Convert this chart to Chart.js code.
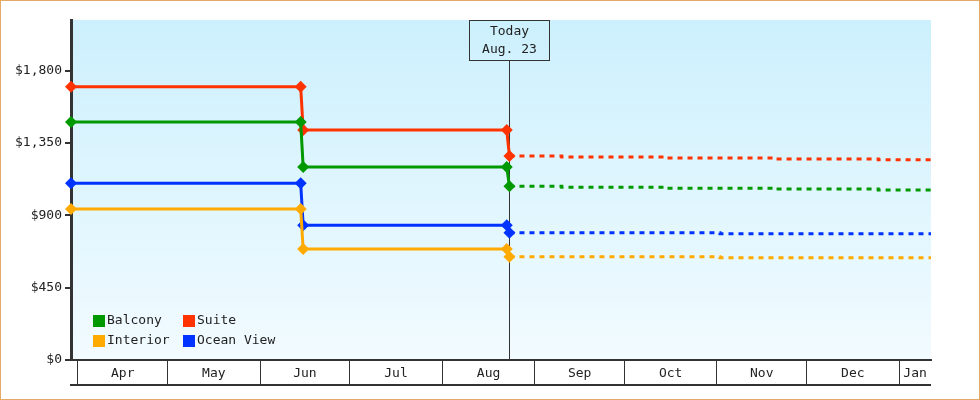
<!DOCTYPE html>
<html>
<head>
<meta charset="utf-8">
<title>Cabin prices</title>
<script src="https://cdn.jsdelivr.net/npm/chart.js@4.4.0/dist/chart.umd.min.js"></script>
<style>
    html, body { margin: 0; padding: 0; background: #fff; }
    #wrap { width: 980px; height: 400px; }
</style>
</head>
<body>
<div id="wrap"><canvas id="priceChart" width="980" height="400"></canvas></div>
<script>
// Price history (solid lines with markers)
const historyDates = ['2013-03-29T16:00', '2013-06-14T14:00', '2013-06-15T10:00', '2013-08-22T14:00', '2013-08-23T12:00'];
const balconyHistory = [1480, 1480, 1200, 1200, 1081];
const suiteHistory = [1700, 1700, 1430, 1430, 1269];
const interiorHistory = [940, 940, 691, 691, 642];
const oceanHistory = [1100, 1100, 838, 838, 791];

// Forecast (dashed, stepped)
const forecastDatesA = ['2013-08-23T12:00', '2013-09-10T00:00', '2013-10-15T00:00', '2013-11-20T00:00', '2013-12-25T00:00', '2014-01-11T16:00'];
const balconyForecast = [1081, 1075, 1069, 1063, 1057, 1057];
const suiteForecast = [1269, 1263, 1257, 1251, 1245, 1245];
const forecastDatesB = ['2013-08-23T12:00', '2013-11-02T00:00', '2014-01-11T16:00'];
const interiorForecast = [642, 636, 636];
const oceanForecast = [791, 785, 785];

// Axis
const xStart = '2013-03-29T16:00';
const xEnd = '2014-01-11T16:00';
const monthStarts = ['2013-04-01T00:00', '2013-05-01T00:00', '2013-06-01T00:00', '2013-07-01T00:00', '2013-08-01T00:00',
    '2013-09-01T00:00', '2013-10-01T00:00', '2013-11-01T00:00', '2013-12-01T00:00', '2014-01-01T00:00'];
const monthLabels = ['Apr', 'May', 'Jun', 'Jul', 'Aug', 'Sep', 'Oct', 'Nov', 'Dec', 'Jan'];
const yTicks = [0, 450, 900, 1350, 1800];
const yMax = 2115;

const todayDate = '2013-08-23T12:00';
const todayLabel = ['Today', 'Aug. 23'];

const COLORS = {
    balcony: '#009900',
    suite: '#ff3300',
    interior: '#ffaa00',
    ocean: '#0033ff'
};

const toMs = s => Date.parse(s + 'Z');

// Ay sınırları ve etiket merkezleri
const boundaryValues = monthStarts.map(toMs);
const labelByValue = new Map();
monthStarts.forEach((m, i) => {
    const a = toMs(m);
    const b = i + 1 < monthStarts.length ? toMs(monthStarts[i + 1]) : toMs(xEnd);
    labelByValue.set((a + b) / 2, monthLabels[i]);
});

function historySet(label, color, values) {
    return {
        label,
        data: historyDates.map((d, i) => ({ x: toMs(d), y: values[i] })),
        borderColor: color,
        backgroundColor: color,
        borderWidth: 3,
        pointStyle: 'rectRot',
        pointRadius: 6,
        pointHoverRadius: 6,
        pointBorderWidth: 0,
        tension: 0,
        clip: false,
        fill: false
    };
}

function forecastSet(label, color, dates, values) {
    return {
        label,
        forecast: true,
        data: dates.map((d, i) => ({ x: toMs(d), y: values[i] })),
        borderColor: color,
        backgroundColor: color,
        borderWidth: 3,
        borderDash: [5, 5],
        pointRadius: 0,
        pointHoverRadius: 0,
        stepped: 'before',
        fill: false
    };
}

// Arka plan, alt çizgi, çerçeve
const backgroundPlugin = {
    id: 'backgroundPlugin',
    beforeDraw(chart) {
        const { ctx, chartArea: a } = chart;
        ctx.save();
        ctx.fillStyle = '#ffffff';
        ctx.fillRect(0, 0, chart.width, chart.height);
        const g = ctx.createLinearGradient(0, a.top, 0, a.bottom);
        g.addColorStop(0, '#ccf0fd');
        g.addColorStop(1, '#f2fbff');
        ctx.fillStyle = g;
        ctx.fillRect(a.left, a.top, a.right - a.left, a.bottom - a.top);
        ctx.restore();
    },
    afterDraw(chart) {
        const { ctx, chartArea: a } = chart;
        ctx.save();
        ctx.strokeStyle = '#333';
        ctx.lineWidth = 2;
        ctx.beginPath();
        ctx.moveTo(a.left - 1, a.bottom + 25);
        ctx.lineTo(a.right, a.bottom + 25);
        ctx.stroke();
        ctx.strokeStyle = '#e5a965';
        ctx.lineWidth = 1;
        ctx.strokeRect(0.5, 0.5, chart.width - 1, chart.height - 1);
        ctx.restore();
    }
};

// Bugün çizgisi
const todayPlugin = {
    id: 'todayPlugin',
    beforeDatasetsDraw(chart) {
        const { ctx, chartArea: a } = chart;
        const x = Math.round(chart.scales.x.getPixelForValue(toMs(todayDate))) + 0.5;
        const w = 80, h = 40;
        ctx.save();
        ctx.strokeStyle = '#333';
        ctx.lineWidth = 1;
        ctx.beginPath();
        ctx.moveTo(x, a.top + h);
        ctx.lineTo(x, a.bottom);
        ctx.stroke();
        ctx.strokeRect(x - w / 2, a.top + 0.5, w, h);
        ctx.fillStyle = '#222';
        ctx.font = '13px "DejaVu Sans Mono", monospace';
        ctx.textAlign = 'center';
        ctx.textBaseline = 'middle';
        ctx.fillText(todayLabel[0], x, a.top + 12);
        ctx.fillText(todayLabel[1], x, a.top + 30);
        ctx.restore();
    }
};

// Lejant (grafik alanı içinde, sol alt)
const legendPlugin = {
    id: 'legendPlugin',
    afterDatasetsDraw(chart) {
        const { ctx, chartArea: a } = chart;
        const items = chart.data.datasets.filter(ds => !ds.forecast);
        ctx.save();
        ctx.font = '13px "DejaVu Sans Mono", monospace';
        ctx.textAlign = 'left';
        ctx.textBaseline = 'middle';
        items.forEach((ds, i) => {
            const x = a.left + 22 + (i % 2) * 90;
            const y = a.bottom - 45 + Math.floor(i / 2) * 20;
            ctx.fillStyle = ds.borderColor;
            ctx.fillRect(x, y, 12, 12);
            ctx.fillStyle = '#222';
            ctx.fillText(ds.label, x + 14, y + 6);
        });
        ctx.restore();
    }
};

Chart.defaults.font.family = '"DejaVu Sans Mono", monospace';
Chart.defaults.font.size = 13;
Chart.defaults.color = '#222';

new Chart(document.getElementById('priceChart'), {
    type: 'line',
    data: {
        datasets: [
            historySet('Balcony', COLORS.balcony, balconyHistory),
            historySet('Suite', COLORS.suite, suiteHistory),
            historySet('Interior', COLORS.interior, interiorHistory),
            historySet('Ocean View', COLORS.ocean, oceanHistory),
            forecastSet('Balcony forecast', COLORS.balcony, forecastDatesA, balconyForecast),
            forecastSet('Suite forecast', COLORS.suite, forecastDatesA, suiteForecast),
            forecastSet('Interior forecast', COLORS.interior, forecastDatesB, interiorForecast),
            forecastSet('Ocean View forecast', COLORS.ocean, forecastDatesB, oceanForecast)
        ]
    },
    options: {
        responsive: false,
        devicePixelRatio: 1,
        animation: false,
        events: [],
        layout: { padding: { top: 20, right: 49, bottom: 0, left: 0 } },
        plugins: {
            legend: { display: false },
            tooltip: { enabled: false }
        },
        scales: {
            x: {
                type: 'linear',
                min: toMs(xStart),
                max: toMs(xEnd),
                afterBuildTicks: scale => {
                    const vals = boundaryValues.concat(Array.from(labelByValue.keys())).sort((p, q) => p - q);
                    scale.ticks = vals.map(v => ({ value: v }));
                },
                afterFit: scale => { scale.height = 40; },
                ticks: {
                    autoSkip: false,
                    maxRotation: 0,
                    padding: -19,
                    color: '#222',
                    callback: value => labelByValue.get(value) || ''
                },
                grid: {
                    drawOnChartArea: false,
                    drawTicks: true,
                    tickLength: 25,
                    color: ctx => (ctx.tick && boundaryValues.includes(ctx.tick.value)) ? '#333' : 'rgba(0,0,0,0)',
                    lineWidth: ctx => (ctx.tick && boundaryValues.includes(ctx.tick.value)) ? 1 : 0
                },
                border: { display: true, color: '#333', width: 2 }
            },
            y: {
                min: 0,
                max: yMax,
                afterBuildTicks: scale => {
                    scale.ticks = yTicks.map(v => ({ value: v }));
                },
                afterFit: scale => { scale.width = 71; },
                ticks: {
                    padding: 3,
                    color: '#222',
                    callback: value => '$' + value.toLocaleString('en-US')
                },
                grid: {
                    drawOnChartArea: false,
                    drawTicks: true,
                    tickLength: 6,
                    color: '#333',
                    lineWidth: 2
                },
                border: { display: true, color: '#333', width: 3 }
            }
        }
    },
    plugins: [backgroundPlugin, todayPlugin, legendPlugin]
});
</script>
</body>
</html>
